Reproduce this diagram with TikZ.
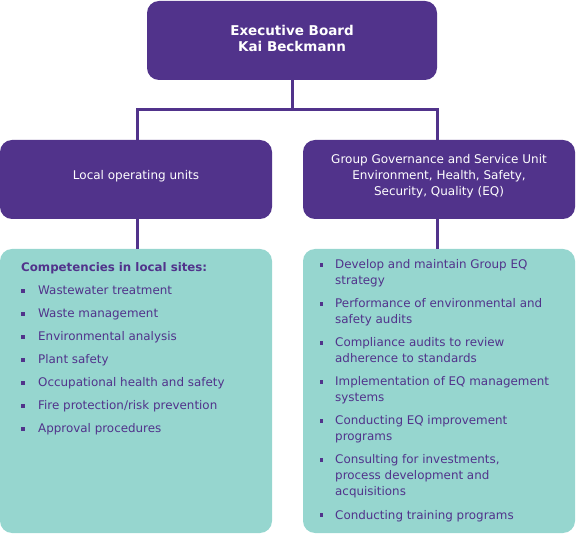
\documentclass[tikz,border=0pt]{standalone}
\usepackage{fontspec}
\setmainfont{DejaVu Sans}
\definecolor{bpurple}{RGB}{81,51,139}
\definecolor{bteal}{RGB}{150,214,207}
\newcommand{\mlines}[1]{\begin{tabular}[t]{@{}l@{}}#1\end{tabular}}
\begin{document}
\begin{tikzpicture}[x=1pt,y=-1pt,
  pbox/.style={fill=bpurple,rounded corners=12pt,inner sep=0pt},
  tbox/.style={fill=bteal,rounded corners=12pt,inner sep=0pt},
  conn/.style={draw=bpurple,line width=3pt},
  wtext/.style={text=white,font=\fontsize{12}{16}\selectfont,align=center},
  item/.style={anchor=base west,inner sep=0pt,text=bpurple,font=\fontsize{11.9}{16}\selectfont},
  bul/.style={fill=bpurple,minimum size=3.8pt,inner sep=0pt}]
\useasboundingbox (0,0) rectangle (576,534);
% boxes
\path[pbox] (147,1) rectangle (437,80);
\node[wtext,font=\fontsize{13.5}{16}\selectfont\bfseries] (top) at (292,38) {Executive Board\\Kai Beckmann};
\path[pbox] (0,140) rectangle (272,219);
\node[wtext] (left) at (136,176) {Local operating units};
\path[pbox] (303,140) rectangle (575,219);
\node[wtext] (right) at (439,176) {Group Governance and Service Unit\\Environment, Health, Safety,\\Security, Quality (EQ)};
\path[tbox] (0,249) rectangle (272,533);
\path[tbox] (303,249) rectangle (575,533);
% connectors
\coordinate (tb) at (292,80);
\coordinate (j) at (292,110);
\coordinate (jl) at (137,110);
\coordinate (jr) at (437,110);
\coordinate (lt) at (137,140);
\coordinate (rt) at (437,140);
\coordinate (lb) at (137,219);
\coordinate (rb) at (437,219);
\coordinate (llt) at (137,249);
\coordinate (rrt) at (437,249);
\draw[conn] (tb) -- (j);
\draw[conn] (lt) -- (jl) -- (jr) -- (rt);
\draw[conn] (lb) -- (llt);
\draw[conn] (rb) -- (rrt);
% left list
\node[item,font=\fontsize{11.8}{16}\selectfont\bfseries] (lh) at (21,272) {Competencies in local sites:};
\foreach \t [count=\i] in {Wastewater treatment,Waste management,Environmental analysis,Plant safety,Occupational health and safety,Fire protection/risk prevention,Approval procedures}{
  \node[item] (l\i) at (38,272+23*\i) {\t};
  \node[bul] (lb\i) at (23,268+23*\i) {};
}
% right list
\foreach \t/\y [count=\i] in {{Develop and maintain Group EQ\\strategy}/269,{Performance of environmental and\\safety audits}/308,{Compliance audits to review\\adherence to standards}/347,{Implementation of EQ management\\systems}/386,{Conducting EQ improvement\\programs}/425,{Consulting for investments,\\process development and\\acquisitions}/464,{Conducting training programs}/519}{
  \node[item] (r\i) at (335,\y) {\mlines{\t}};
  \node[bul] (rb\i) at (321.5,\y-4.3) {};
}
\end{tikzpicture}
\end{document}
